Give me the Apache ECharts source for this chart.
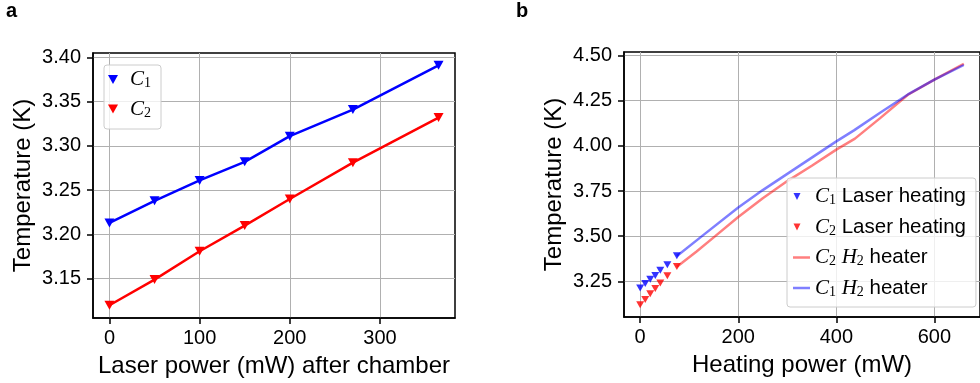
<!DOCTYPE html>
<html>
<head>
<meta charset="utf-8">
<script src="https://cdn.jsdelivr.net/npm/echarts@6/dist/echarts.min.js"></script>
<style>html,body{margin:0;padding:0;background:#fff}#chart{width:980px;height:383px}</style>
</head>
<body>
<div id="chart"></div>
<script>
// ---- data ----
const laserPower = [0, 50, 100, 150, 200, 270, 365];
const c1Laser = [3.213, 3.238, 3.261, 3.282, 3.311, 3.341, 3.391];
const c2Laser = [3.120, 3.149, 3.181, 3.210, 3.240, 3.281, 3.332];
const laserHeatPower = [0, 10.3, 20.5, 30.8, 41, 55.4, 74.8];
const c1HeaterPower = [75, 126, 200, 250, 300, 350, 400, 436, 490, 546, 600, 660];
const c1Heater = [3.39, 3.50, 3.658, 3.755, 3.845, 3.935, 4.025, 4.086, 4.185, 4.285, 4.367, 4.448];
const c2HeaterPower = [75, 115, 153, 200, 250, 300, 350, 400, 438, 490, 546, 600, 660];
const c2Heater = [3.33, 3.415, 3.50, 3.606, 3.71, 3.805, 3.89, 3.979, 4.04, 4.155, 4.283, 4.367, 4.455];
const xTicksA = [0, 100, 200, 300];
const yTicksA = [3.15, 3.20, 3.25, 3.30, 3.35, 3.40];
const xTicksB = [0, 200, 400, 600];
const yTicksB = [3.25, 3.50, 3.75, 4.00, 4.25, 4.50];

const zip = (xs, ys) => xs.map((x, i) => [x, ys[i]]);
const SANS = 'Liberation Sans';
const SERIF = 'Liberation Serif';
const tri = 'path://M0,0 L10,0 L5,9 Z';
const legTriA = 'path://M0,0 L10,0 L5,9 Z M17,0 L17,0 M17,9 L17,9';
const legTriB = 'path://M0,0.5 L7,0.5 L3.5,7.5 Z M16,0 L16,0 M16,8 L16,8';
const legLineB = 'path://M0,2.75 L17,2.75 L17,5.25 L0,5.25 Z M0,0 L0,0 M17,8 L17,8';

function axis(grid, min, max, ticks, fmt, name, gap, isX) {
  return {
    type: 'value', gridIndex: grid, min: min, max: max,
    name: name, nameLocation: 'middle', nameGap: gap,
    nameTextStyle: { fontFamily: SANS, fontSize: 24, color: '#000' },
    axisLine: { show: true, onZero: false, lineStyle: { color: '#000', width: 1.5 } },
    axisTick: { show: true, customValues: ticks, length: 6, lineStyle: { color: '#000', width: 1.5 } },
    axisLabel: { customValues: ticks, formatter: fmt, margin: isX ? 10 : 12,
      fontFamily: SANS, fontSize: 20, color: '#000' },
    splitLine: { show: true, lineStyle: { color: '#b0b0b0', width: 1 } }
  };
}
const f0 = v => String(Math.round(v));
const f2 = v => v.toFixed(2);

const rich = {
  c: { fontFamily: SERIF, fontStyle: 'italic', fontSize: 21, lineHeight: 22, color: '#000' },
  s: { fontFamily: SERIF, fontSize: 14, lineHeight: 8, verticalAlign: 'bottom', color: '#000' },
  t: { fontFamily: SANS, fontSize: 20.5, lineHeight: 22, color: '#000' }
};
const legendText = {
  a_C1: '{c|C}{s|1}', a_C2: '{c|C}{s|2}',
  b_C1L: '{c|C}{s|1}{t| Laser heating}', b_C2L: '{c|C}{s|2}{t| Laser heating}',
  b_C2H: '{c|C}{s|2}{t| }{c|H}{s|2}{t| heater}', b_C1H: '{c|C}{s|1}{t| }{c|H}{s|2}{t| heater}'
};
const legendBase = {
  orient: 'vertical', selectedMode: false,
  backgroundColor: 'rgba(255,255,255,0.8)', borderColor: '#cccccc', borderWidth: 1, borderRadius: 3,
  formatter: n => legendText[n], textStyle: { rich: rich }
};

const option = {
  animation: false,
  backgroundColor: '#fff',
  grid: [
    { left: 93, top: 53, width: 362, height: 265, show: true, borderColor: '#000', borderWidth: 1.5, containLabel: false },
    { left: 624, top: 52, width: 363, height: 265, show: true, borderColor: '#000', borderWidth: 1.5, containLabel: false }
  ],
  xAxis: [
    axis(0, -18.25, 383.25, xTicksA, f0, 'Laser power (mW) after chamber', 36, true),
    axis(1, -33, 693, xTicksB, f0, 'Heating power (mW)', 36, true)
  ],
  yAxis: [
    axis(0, 3.1056, 3.4049, yTicksA, f2, 'Temperature (K)', 58, false),
    axis(1, 3.052, 4.52, yTicksB, f2, 'Temperature (K)', 58, false)
  ],
  legend: [
    Object.assign({}, legendBase, {
      left: 104, top: 65, padding: [4, 10, 9, 4], itemGap: 8, itemWidth: 17, itemHeight: 9,
      data: [{ name: 'a_C1', icon: legTriA }, { name: 'a_C2', icon: legTriA }]
    }),
    Object.assign({}, legendBase, {
      left: 787, top: 178, padding: [8, 10, 8, 6], itemGap: 9, itemWidth: 17, itemHeight: 8,
      data: [{ name: 'b_C1L', icon: legTriB }, { name: 'b_C2L', icon: legTriB },
             { name: 'b_C2H', icon: legLineB }, { name: 'b_C1H', icon: legLineB }]
    })
  ],
  series: [
    { type: 'line', name: 'a_C1', xAxisIndex: 0, yAxisIndex: 0, data: zip(laserPower, c1Laser),
      symbol: tri, symbolSize: [10, 9], showSymbol: true, z: 3,
      lineStyle: { color: '#0000ff', width: 2.5 }, itemStyle: { color: '#0000ff', borderWidth: 0 } },
    { type: 'line', name: 'a_C2', xAxisIndex: 0, yAxisIndex: 0, data: zip(laserPower, c2Laser),
      symbol: tri, symbolSize: [10, 9], showSymbol: true, z: 3,
      lineStyle: { color: '#ff0000', width: 2.5 }, itemStyle: { color: '#ff0000', borderWidth: 0 } },
    { type: 'line', name: 'b_C2H', xAxisIndex: 1, yAxisIndex: 1, data: zip(c2HeaterPower, c2Heater),
      symbol: 'none', z: 2, lineStyle: { color: 'rgba(255,0,0,0.5)', width: 2.5 },
      itemStyle: { color: 'rgba(255,0,0,0.5)', borderWidth: 0 } },
    { type: 'line', name: 'b_C1H', xAxisIndex: 1, yAxisIndex: 1, data: zip(c1HeaterPower, c1Heater),
      symbol: 'none', z: 2, lineStyle: { color: 'rgba(0,0,255,0.5)', width: 2.5 },
      itemStyle: { color: 'rgba(0,0,255,0.5)', borderWidth: 0 } },
    { type: 'scatter', name: 'b_C1L', xAxisIndex: 1, yAxisIndex: 1, data: zip(laserHeatPower, c1Laser),
      symbol: tri, symbolSize: [8, 7], z: 3, itemStyle: { color: '#0000ff', borderWidth: 0 } },
    { type: 'scatter', name: 'b_C2L', xAxisIndex: 1, yAxisIndex: 1, data: zip(laserHeatPower, c2Laser),
      symbol: tri, symbolSize: [8, 7], z: 3, itemStyle: { color: '#ff0000', borderWidth: 0 } }
  ],
  graphic: [
    { type: 'text', left: 6, top: 1, style: { text: 'a', fontFamily: SANS, fontWeight: 'bold', fontSize: 20, fill: '#000' } },
    { type: 'text', left: 516, top: 1, style: { text: 'b', fontFamily: SANS, fontWeight: 'bold', fontSize: 20, fill: '#000' } }
  ]
};
const chart = echarts.init(document.getElementById('chart'), null, { renderer: 'canvas' });
chart.setOption(option);
</script>
</body>
</html>
